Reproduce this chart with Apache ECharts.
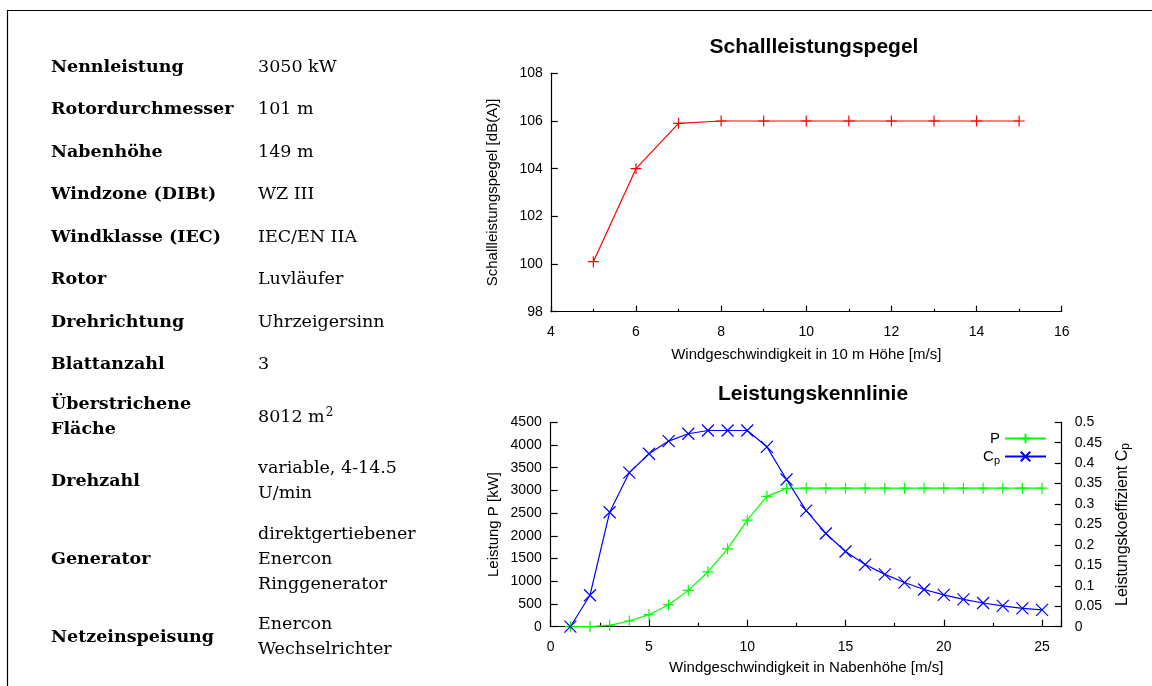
<!DOCTYPE html>
<html>
<head>
<meta charset="utf-8">
<script src="https://cdn.jsdelivr.net/npm/echarts@6/dist/echarts.min.js"></script>
<style>
  html, body { margin: 0; padding: 0; background: #fff; }
  #chart { width: 1152px; height: 686px; }
</style>
</head>
<body>
<div id="chart"></div>
<script>
// Schallleistungspegel über Windgeschwindigkeit in 10 m Höhe
const soundWind = [5, 6, 7, 8, 9, 10, 11, 12, 13, 14, 15];
const soundLevel = [100.1, 104.0, 105.9, 106, 106, 106, 106, 106, 106, 106, 106];

// Leistungskennlinie über Windgeschwindigkeit in Nabenhöhe
const hubWind = [1, 2, 3, 4, 5, 6, 7, 8, 9, 10, 11, 12, 13, 14, 15, 16, 17, 18, 19, 20, 21, 22, 23, 24, 25];
const power = [0, 3, 30, 125, 265, 485, 800, 1205, 1715, 2345, 2870, 3045, 3050, 3050, 3050, 3050, 3050, 3050, 3050, 3050, 3050, 3050, 3050, 3050, 3050];
const cp = [0, 0.077, 0.28, 0.377, 0.423, 0.454, 0.472, 0.48, 0.48, 0.48, 0.44, 0.36, 0.284, 0.228, 0.184, 0.152, 0.128, 0.108, 0.091, 0.078, 0.067, 0.058, 0.051, 0.045, 0.041];

// Technische Daten
const specNames = [
  ['Nennleistung'], ['Rotordurchmesser'], ['Nabenhöhe'], ['Windzone (DIBt)'],
  ['Windklasse (IEC)'], ['Rotor'], ['Drehrichtung'], ['Blattanzahl'],
  ['Überstrichene', 'Fläche'], ['Drehzahl'], ['Generator'], ['Netzeinspeisung']
];
const specValues = [
  ['3050 kW'], ['101 m'], ['149 m'], ['WZ III'],
  ['IEC/EN IIA'], ['Luvläufer'], ['Uhrzeigersinn'], ['3'],
  ['8012 m{sup|2}'], ['variable, 4-14.5', 'U/min'], ['direktgertiebener', 'Enercon', 'Ringgenerator'], ['Enercon', 'Wechselrichter']
];

// table layout
const rowCenters = [67, 109, 152, 194, 237, 279, 322, 364, 417, 481, 559, 637];
const lineStep = 25;
const tableFontSize = 17.5;
const serif = '"DejaVu Serif", "Liberation Serif", serif';
const sans = '"Liberation Sans", Arial, sans-serif';

const graphics = [];
// frame
graphics.push({ type: 'polyline', silent: true,
  shape: { points: [[7.5, 700], [7.5, 10.5], [1160, 10.5]] },
  style: { stroke: '#000', lineWidth: 1.2, fill: null } });

function addCell(lines, x, cy, bold) {
  const n = lines.length;
  lines.forEach((t, k) => {
    graphics.push({ type: 'text', silent: true,
      style: { text: t, x: x, y: cy + (k - (n - 1) / 2) * lineStep,
        fill: '#000', verticalAlign: 'middle', align: 'left',
        fontFamily: serif, fontSize: tableFontSize, fontWeight: bold ? 'bold' : 'normal',
        rich: { sup: { fontFamily: serif, fontSize: 12, padding: [0, 0, 9, 1] } } } });
  });
}
specNames.forEach((lines, i) => addCell(lines, 51, rowCenters[i], true));
specValues.forEach((lines, i) => addCell(lines, 258, rowCenters[i], false));

// chart titles
graphics.push({ type: 'text', silent: true,
  style: { text: 'Schallleistungspegel', x: 814, y: 47, align: 'center', verticalAlign: 'middle',
    fill: '#000', font: 'bold 21px ' + sans } });
graphics.push({ type: 'text', silent: true,
  style: { text: 'Leistungskennlinie', x: 813, y: 394, align: 'center', verticalAlign: 'middle',
    fill: '#000', font: 'bold 21px ' + sans } });

const plusSym = 'path://M0,5L10,5M5,0L5,10';
const crossSym = 'path://M0,0L10,10M10,0L0,10';

function axisBase() {
  return {
    axisLine: { show: true, onZero: false, lineStyle: { color: '#000', width: 1.2 } },
    axisTick: { show: true, inside: true, length: 7, lineStyle: { color: '#000', width: 1.2 } },
    splitLine: { show: false },
    axisLabel: { color: '#000', fontSize: 14, fontFamily: sans },
    nameTextStyle: { color: '#000', fontSize: 15, fontFamily: sans },
    nameLocation: 'middle'
  };
}

const chart = echarts.init(document.getElementById('chart'), null, { renderer: 'canvas' });
chart.setOption({
  animation: false,
  backgroundColor: '#fff',
  textStyle: { fontFamily: sans },
  grid: [
    { left: 550.8, top: 73.3, width: 510.9, height: 238.4 },
    { left: 550.7, top: 422.3, width: 511, height: 204.4 }
  ],
  xAxis: [
    Object.assign(axisBase(), {
      type: 'value', gridIndex: 0, min: 4, max: 16, interval: 2,
      name: 'Windgeschwindigkeit in 10 m Höhe [m/s]', nameGap: 36,
      axisTick: { show: true, inside: true, length: 6, lineStyle: { color: '#000', width: 1.2 } },
      minorTick: { show: true, splitNumber: 2, length: 3, lineStyle: { color: '#000', width: 1.2 } },
      axisLabel: { color: '#000', fontSize: 14, fontFamily: sans, margin: 13 }
    }),
    Object.assign(axisBase(), {
      type: 'value', gridIndex: 1, min: 0, max: 26, interval: 5,
      name: 'Windgeschwindigkeit in Nabenhöhe [m/s]', nameGap: 34,
      axisTick: { show: true, inside: true, length: 7, lineStyle: { color: '#000', width: 1.2 } },
      minorTick: { show: true, splitNumber: 2, length: 4, lineStyle: { color: '#000', width: 1.2 } },
      axisLabel: { color: '#000', fontSize: 14, fontFamily: sans, margin: 13, showMaxLabel: false }
    })
  ],
  yAxis: [
    Object.assign(axisBase(), {
      type: 'value', gridIndex: 0, min: 98, max: 108, interval: 2,
      name: 'Schallleistungspegel [dB(A)]', nameGap: 50, nameRotate: 90,
      axisLabel: { color: '#000', fontSize: 14, fontFamily: sans, margin: 8 }
    }),
    Object.assign(axisBase(), {
      type: 'value', gridIndex: 1, min: 0, max: 4500, interval: 500,
      name: 'Leistung P [kW]', nameGap: 49, nameRotate: 90,
      axisLabel: { color: '#000', fontSize: 14, fontFamily: sans, margin: 9, formatter: v => String(v) }
    }),
    Object.assign(axisBase(), {
      type: 'value', gridIndex: 1, position: 'right', min: 0, max: 0.5, interval: 0.05,
      name: 'Leistungskoeffizient C{sub|p}', nameGap: 52, nameRotate: 90,
      nameTextStyle: { color: '#000', fontSize: 16, fontFamily: sans,
        rich: { sub: { fontSize: 12, verticalAlign: 'bottom', padding: [6, 0, 0, 0], fontFamily: sans } } },
      axisLabel: { color: '#000', fontSize: 14, fontFamily: sans, margin: 13,
        formatter: v => String(+v.toFixed(2)) }
    })
  ],
  legend: {
    data: ['P', 'Cp'],
    orient: 'vertical', right: 100, top: 426, align: 'right',
    itemWidth: 41, itemHeight: 12, itemGap: 3,
    selectedMode: false,
    textStyle: { color: '#000', fontSize: 15, fontFamily: sans,
      rich: { sub: { fontSize: 11, padding: [8, 0, 0, 0], fontFamily: sans } } },
    formatter: name => name === 'Cp' ? 'C{sub|p}' : name
  },
  graphic: graphics,
  series: [
    {
      name: 'Schallleistungspegel', type: 'line', xAxisIndex: 0, yAxisIndex: 0,
      data: soundWind.map((x, i) => [x, soundLevel[i]]),
      symbol: plusSym, symbolSize: 11, showSymbol: true, clip: false,
      lineStyle: { color: '#ff0000', width: 1.2 },
      itemStyle: { color: '#ff0000', borderColor: '#ff0000', borderWidth: 1.2 },
      emphasis: { disabled: true }
    },
    {
      name: 'P', type: 'line', xAxisIndex: 1, yAxisIndex: 1,
      data: hubWind.map((x, i) => [x, power[i]]),
      symbol: plusSym, symbolSize: 11, showSymbol: true, clip: false,
      lineStyle: { color: '#00ff00', width: 1.2 },
      itemStyle: { color: '#00ff00', borderColor: '#00ff00', borderWidth: 1.2 },
      emphasis: { disabled: true }
    },
    {
      name: 'Cp', type: 'line', xAxisIndex: 1, yAxisIndex: 2,
      data: hubWind.map((x, i) => [x, cp[i]]),
      symbol: crossSym, symbolSize: 12, showSymbol: true, clip: false,
      lineStyle: { color: '#0000ff', width: 1.2 },
      itemStyle: { color: '#0000ff', borderColor: '#0000ff', borderWidth: 1.2 },
      emphasis: { disabled: true }
    }
  ]
});
</script>
</body>
</html>
